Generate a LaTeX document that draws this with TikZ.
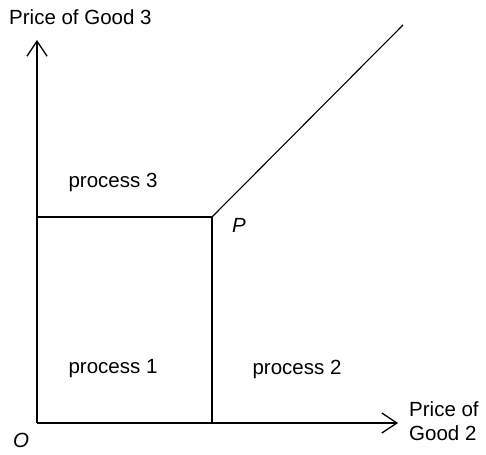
\documentclass[tikz,border=0pt]{standalone}
\usepackage{fontspec}
\setmainfont{Liberation Sans}
\usetikzlibrary{arrows.meta}
\begin{document}
\begin{tikzpicture}[x=1pt,y=-1pt,
  lbl/.style={font=\fontsize{20.5}{24}\selectfont, inner sep=0pt},
  ax/.style={line width=1.3pt, -{Straight Barb[length=15pt,width=20pt,line width=1.3pt]}},
  ln/.style={line width=1.1pt}]
\useasboundingbox (0,0) rectangle (486,454);
\coordinate (O) at (37,423);
\coordinate (Ytop) at (37,40);
\coordinate (Xend) at (398,423);
\coordinate (P) at (212,217);
\coordinate (L) at (37,217);
\coordinate (B) at (212,423);
\coordinate (R) at (403,25);
\draw[ax] (O) -- (Ytop);
\draw[ax] (O) -- (Xend);
\draw[ln] (L) -- (P) -- (B);
\draw[ln] (P) -- (R);
\node[lbl, anchor=west] (ylab) at (9,17) {Price of Good 3};
\node[lbl] (p3) at (113,182) {process 3};
\node[lbl] (p1) at (113,369) {process 1};
\node[lbl] (p2) at (297,369) {process 2};
\node[lbl, font=\fontsize{20.5}{24}\selectfont\itshape] (Plab) at (239,225) {P};
\node[lbl, font=\fontsize{20.5}{24}\selectfont\itshape] (Olab) at (21,440) {O};
\node[lbl, anchor=west, align=left, font=\fontsize{20.5}{24.5}\selectfont] (xlab) at (409,421) {Price of\\Good 2};
\end{tikzpicture}
\end{document}
